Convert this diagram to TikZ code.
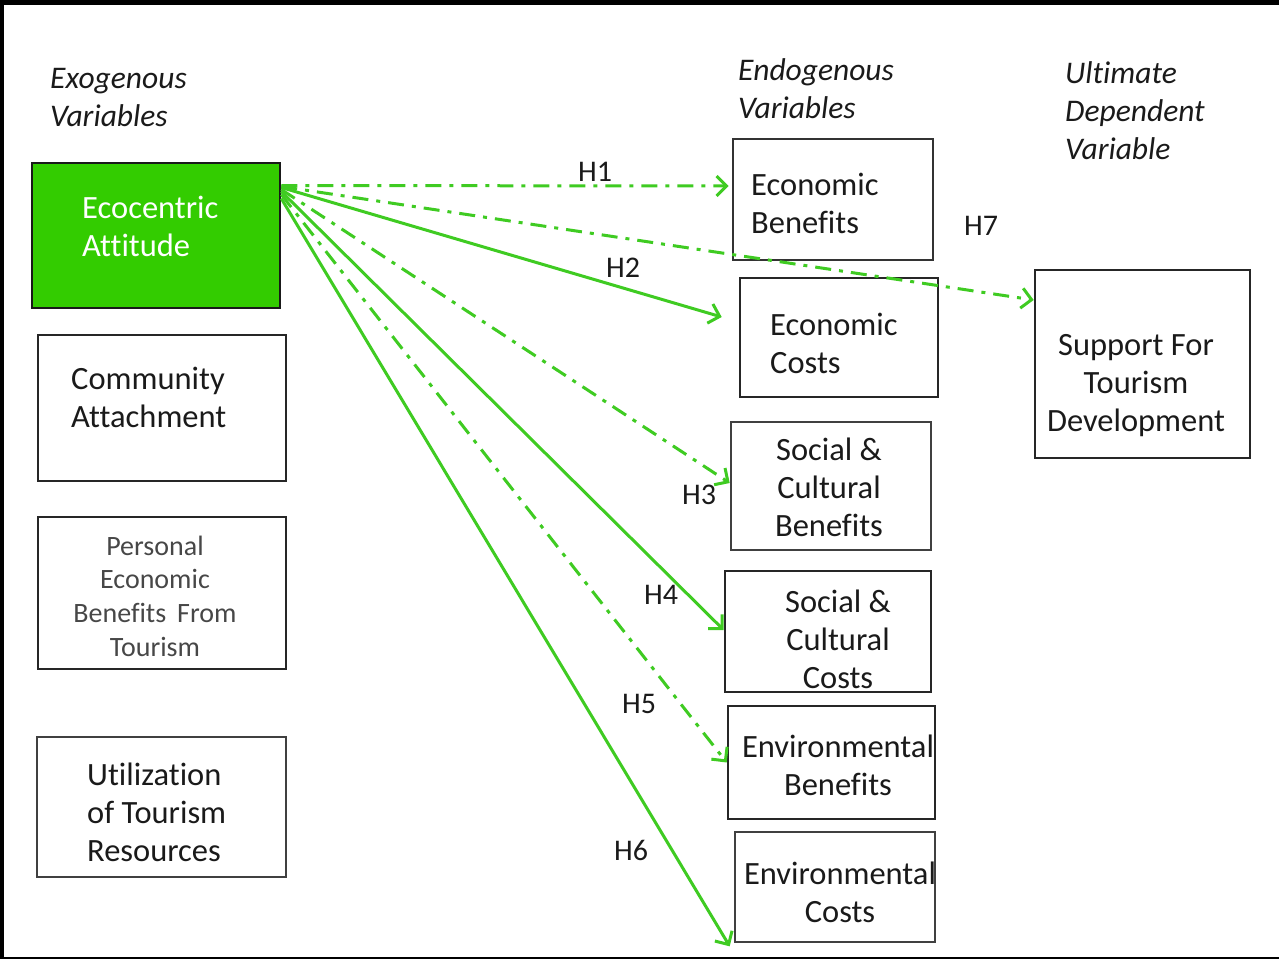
\documentclass[tikz,border=0pt]{standalone}
\usepackage{fontspec}
\setmainfont{Carlito}[Ligatures=NoCommon]
\usetikzlibrary{arrows.meta}
\definecolor{lgreen}{HTML}{3FCB22}
\definecolor{boxgreen}{HTML}{33CC00}
\definecolor{txt}{HTML}{1A1A1A}
\begin{document}
\begin{tikzpicture}[x=1pt,y=-1pt,
  box/.style={draw=black!85,line width=2.6pt,inner sep=0pt},
  btext/.style={inner sep=0pt,text=txt,font=\fontsize{32.5}{38}\selectfont},
  ptext/.style={inner sep=0pt,text=black!72,align=center,font=\fontsize{28}{33.7}\selectfont},
  head/.style={inner sep=0pt,text=txt,align=left,anchor=west,font=\fontsize{31.5}{38}\selectfont\itshape},
  hlab/.style={inner sep=0pt,text=txt,font=\fontsize{30}{34}\selectfont},
  conn/.style={draw=lgreen,line width=3pt,-{Straight Barb[length=10pt,width=20pt,line width=3pt]}},
  dashdot/.style={dash pattern=on 16pt off 8pt on 4pt off 8pt}]
\useasboundingbox (0,0) rectangle (1279,959);
% frame
\draw[black,line width=5pt] (0,2.5) -- (1279,2.5);
\draw[black,line width=4pt] (2,0) -- (2,959);
\draw[black,line width=2pt] (0,957.5) -- (1279,957.5);
% headers
\node[head] (hx) at (50,98) {Exogenous\\Variables};
\node[head] (hn) at (738,89) {Endogenous\\Variables};
\node[head] (hu) at (1065,111) {Ultimate\\Dependent\\Variable};
% exogenous boxes
\node[box,fill=boxgreen,draw=black!90,minimum width=248pt,minimum height=145pt] (ea) at (156,235.5) {};
\node[btext,text=white,align=left,anchor=west] at (82,226) {Ecocentric\\Attitude};
\node[box,minimum width=248pt,minimum height=146pt] (ca) at (162,408) {};
\node[btext,align=left,anchor=west] at (71,397) {Community\\Attachment};
\node[box,minimum width=248pt,minimum height=152pt] (pe) at (162,593) {};
\node[ptext] at (155,596) {Personal\\Economic\\Benefits\, From\\Tourism};
\node[box,draw=black!75,minimum width=249pt,minimum height=140pt] (ut) at (161.5,807) {};
\node[btext,align=left,anchor=west] at (87,812) {Utilization\\of Tourism\\Resources};
% endogenous boxes
\node[box,draw=black!80,minimum width=200pt,minimum height=121pt] (eb) at (833,199.5) {};
\node[btext,align=left,anchor=west] at (751,203) {Economic\\Benefits};
\node[box,minimum width=198pt,minimum height=119pt] (ec) at (839,337.5) {};
\node[btext,align=left,anchor=west] at (770,343) {Economic\\Costs};
\node[box,draw=black!75,minimum width=200pt,minimum height=128pt] (scb) at (831,486) {};
\node[btext,align=center] at (829,487) {Social \&\\Cultural\\Benefits};
\node[box,minimum width=206pt,minimum height=121pt] (scc) at (828,631.5) {};
\node[btext,align=center] at (838,639) {Social \&\\Cultural\\Costs};
\node[box,minimum width=207pt,minimum height=113pt] (enb) at (831.5,762.5) {};
\node[btext,align=center] at (838,765) {Environmental\\Benefits};
\node[box,draw=black!75,minimum width=200pt,minimum height=110pt] (enc) at (835,887) {};
\node[btext,align=center] at (840,892) {Environmental\\Costs};
% ultimate
\node[box,minimum width=215pt,minimum height=188pt] (sup) at (1142.5,364) {};
\node[btext,align=center] at (1136,386) {Support For\\Tourism\\Development};
% connectors
\draw[conn,dashdot] ([yshift=50pt]ea.east) -- ([xshift=-3pt,yshift=13.5pt]eb.west);
\draw[conn,dashdot] ([yshift=49pt]ea.east) -- ([yshift=64pt]sup.west);
\draw[conn] ([yshift=48pt]ea.east) -- ([xshift=-17pt,yshift=20.5pt]ec.west);
\draw[conn,dashdot] ([yshift=46pt]ea.east) -- ([yshift=3pt]scb.west);
\draw[conn] ([yshift=44pt]ea.east) -- ([yshift=1.5pt]scc.west);
\draw[conn,dashdot] ([yshift=41pt]ea.east) -- (enb.west);
\draw[conn] ([yshift=37pt]ea.east) -- ([xshift=-4pt,yshift=-3pt]enc.south west);
% hypothesis labels
\node[hlab] (h1) at (595,172) {H1};
\node[hlab] (h2) at (623,268) {H2};
\node[hlab] (h3) at (699,495) {H3};
\node[hlab] (h4) at (661,595) {H4};
\node[hlab] (h5) at (639,704) {H5};
\node[hlab] (h6) at (631,850) {H6};
\node[hlab] (h7) at (981,226) {H7};
\end{tikzpicture}
\end{document}
